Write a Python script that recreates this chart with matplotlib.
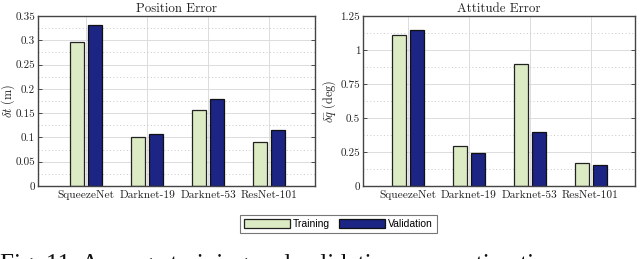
import matplotlib
matplotlib.use("Agg")
import matplotlib.pyplot as plt
import numpy as np
from matplotlib.ticker import MultipleLocator

plt.rcParams['font.family'] = 'serif'
plt.rcParams['font.serif'] = ['cmr10', 'DejaVu Serif']
plt.rcParams['mathtext.fontset'] = 'cm'
plt.rcParams['axes.formatter.use_mathtext'] = True

categories = ["SqueezeNet", "Darknet-19", "Darknet-53", "ResNet-101"]
pos_training = [0.296, 0.101, 0.156, 0.090]
pos_validation = [0.331, 0.108, 0.180, 0.116]
att_training = [1.113, 0.294, 0.900, 0.166]
att_validation = [1.147, 0.243, 0.395, 0.154]
pos_ticks = [0, 0.05, 0.1, 0.15, 0.2, 0.25, 0.3, 0.35]
pos_ticklabels = ["0", "0.05", "0.1", "0.15", "0.2", "0.25", "0.3", "0.35"]
att_ticks = [0, 0.25, 0.5, 0.75, 1.0, 1.25]
att_ticklabels = ["0", "0.25", "0.5", "0.75", "1", "1.25"]
caption = "Fig. 11. Average training and validation pose estimation errors."

c_train = "#dcebc4"
c_val = "#1c2484"

fig = plt.figure(figsize=(6.4, 2.59), dpi=100)
W, H = 640, 259
axL = fig.add_axes([38 / W, 1 - 186 / H, (315 - 38) / W, (186 - 16) / H])
axR = fig.add_axes([363 / W, 1 - 186 / H, (635 - 363) / W, (186 - 16) / H])

x = np.arange(1, len(categories) + 1)
bw = 0.23
off = 0.148


def style(ax, tr, va, ticks, labels, ymax, minor, title, ylabel, xlim, ylab_x):
    ax.set_axisbelow(True)
    b1 = ax.bar(x - off, tr, bw, color=c_train, edgecolor="#222222", linewidth=0.9, label="Training")
    b2 = ax.bar(x + off, va, bw, color=c_val, edgecolor="#111111", linewidth=0.9, label="Validation")
    ax.set_xlim(*xlim)
    ax.set_ylim(0, ymax)
    ax.set_xticks(x)
    ax.set_xticklabels(categories, fontsize=8.2)
    ax.set_yticks(ticks)
    ax.set_yticklabels(labels, fontsize=8.0)
    ax.yaxis.set_minor_locator(MultipleLocator(minor))
    ax.grid(True, which="major", axis="both", color="#dcdcdc", linewidth=0.7, linestyle="-")
    ax.grid(True, which="minor", axis="y", color="#c8c8c8", linewidth=0.7, linestyle=(0, (1, 2.5)))
    ax.tick_params(axis="both", which="major", direction="in", length=3, width=0.6,
                   top=True, right=True, pad=2, colors="#333333", labelcolor="#222222")
    ax.tick_params(axis="y", which="minor", length=0)
    ax.tick_params(axis="x", which="major", length=0, pad=3)
    for s in ax.spines.values():
        s.set_color("#444444")
        s.set_linewidth(1.0)
    ax.set_title(title, fontsize=9.3, pad=3, color="#222222")
    ax.set_ylabel(ylabel, fontsize=8.8, color="#222222", va="center")
    ax.yaxis.set_label_coords(ylab_x, 0.5)
    return b1, b2


b1, b2 = style(axL, pos_training, pos_validation, pos_ticks, pos_ticklabels, 0.35, 0.025,
               "Position Error", r"$\delta\bar{t}$ (m)", (0.21, 4.75), (8.5 - 38) / 277)
style(axR, att_training, att_validation, att_ticks, att_ticklabels, 1.25, 0.125,
      "Attitude Error", r"$\delta\bar{q}$ (deg)", (0.26, 4.73), (329 - 363) / 272)

leg = fig.legend([b1, b2], ["Training", "Validation"], ncol=2,
                 loc="center", bbox_to_anchor=(338.5 / W, 1 - 224 / H),
                 prop={"family": "Liberation Sans", "size": 7.5},
                 handlelength=4.4, handleheight=0.85, handletextpad=0.3,
                 columnspacing=0.9, borderpad=0.35, frameon=True, fancybox=False,
                 edgecolor="#555555", borderaxespad=0)
leg.get_frame().set_linewidth(0.8)

fig.text(0.0, 1 - 271.5 / H, caption, family="Liberation Serif", fontsize=18,
         va="baseline", ha="left", color="#111111")

fig.savefig("out.png", dpi=100)
